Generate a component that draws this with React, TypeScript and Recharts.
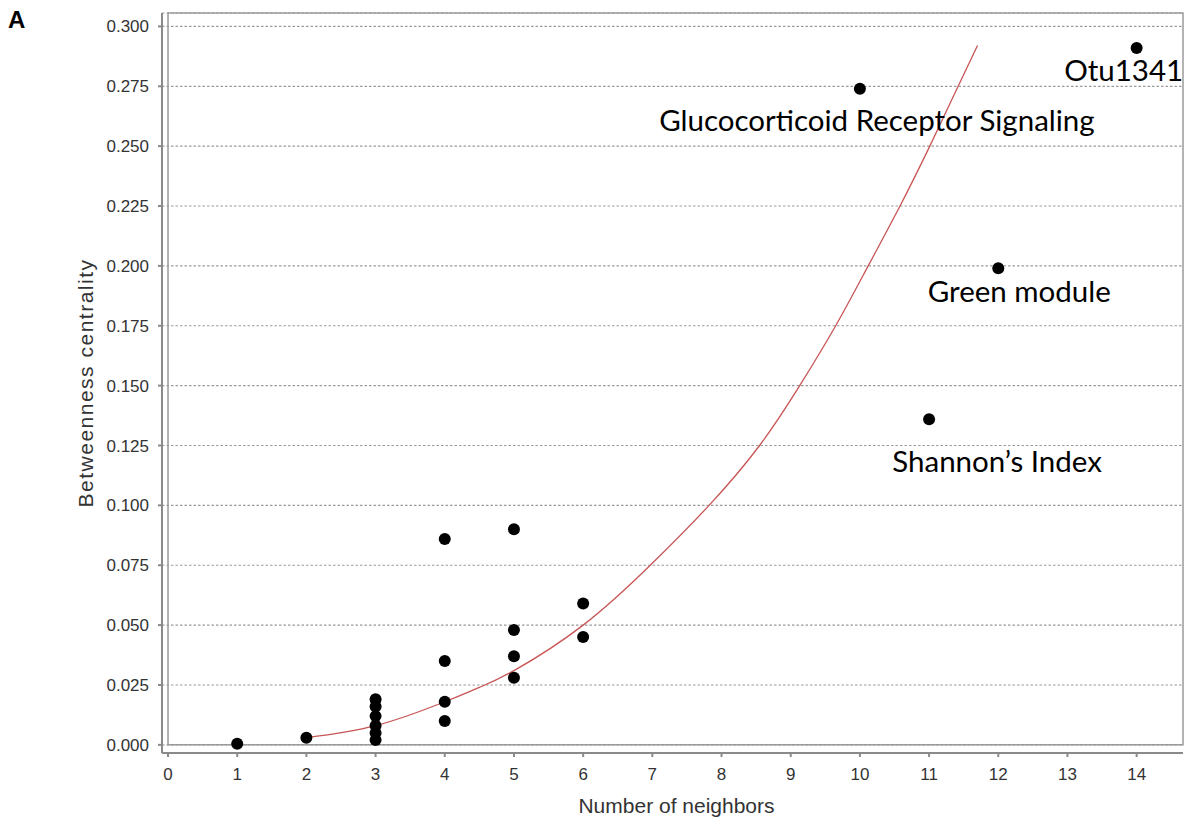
import React from 'react';
import {
  ComposedChart, Scatter, Line, XAxis, YAxis, CartesianGrid, ReferenceArea,
} from 'recharts';

// node degree vs betweenness
const degree = [1, 2, 3, 3, 3, 3, 3, 3, 4, 4, 4, 4, 5, 5, 5, 5, 6, 6, 10, 11, 12, 14];
const betweenness = [
  0.0005, 0.003,
  0.019, 0.016, 0.012, 0.008, 0.005, 0.002,
  0.086, 0.035, 0.018, 0.010,
  0.090, 0.048, 0.037, 0.028,
  0.059, 0.045,
  0.274, 0.136, 0.199, 0.291,
];
const nodeNames = [
  '', '', '', '', '', '', '', '', '', '', '', '', '', '', '', '', '', '',
  'Glucocorticoid Receptor Signaling', 'Shannon\u2019s Index', 'Green module', 'Otu1341',
];

// fitted curve
const fitX = [2, 3, 4, 4.5, 5, 6, 6.97, 7.82, 8.55, 9.13, 9.65, 10.12, 10.58, 11.01, 11.42, 11.7];
const fitY = [0.003, 0.008, 0.018, 0.024, 0.031, 0.05, 0.075, 0.1, 0.125, 0.15, 0.175, 0.2, 0.225, 0.25, 0.275, 0.292];

const xTicks = [0, 1, 2, 3, 4, 5, 6, 7, 8, 9, 10, 11, 12, 13, 14];
const yTicks = [0, 0.025, 0.05, 0.075, 0.1, 0.125, 0.15, 0.175, 0.2, 0.225, 0.25, 0.275, 0.3];

const X_MIN = -0.087;
const X_MAX = 14.67;
const Y_MIN = -0.0034;
const Y_MAX = 0.3056;

const nodeData = degree.map((x, i) => ({ x, y: betweenness[i], name: nodeNames[i] }));
const fitData = fitX.map((x, i) => ({ x, y: fitY[i] }));

// where each annotation sits relative to its dot (px)
const labelOffset: Record<string, { dx: number; dy: number }> = {
  'Glucocorticoid Receptor Signaling': { dx: 17, dy: 42 },
  'Shannon\u2019s Index': { dx: 68, dy: 53 },
  'Green module': { dx: 21, dy: 34 },
  'Otu1341': { dx: -13, dy: 33 },
};

const axisFont = '"Liberation Sans", Arial, sans-serif';
const noteFont = 'Lato, "Open Sans", sans-serif';

const renderNode = (props: any) => {
  const { cx, cy, payload } = props;
  const off = payload.name ? labelOffset[payload.name] : null;
  return (
    <g>
      <circle cx={cx} cy={cy} r={6} fill="#000" />
      {off && (
        <text
          x={cx + off.dx}
          y={cy + off.dy}
          textAnchor="middle"
          fontFamily={noteFont}
          fontSize={29.5}
          fill="#000"
        >
          {payload.name}
        </text>
      )}
    </g>
  );
};

export default function App() {
  return (
    <div style={{ position: 'absolute', left: 0, top: 0, width: 1185, height: 821, background: '#fff' }}>
      <div
        style={{
          position: 'absolute', left: 8, top: 8, fontFamily: axisFont, fontWeight: 'bold',
          fontSize: 24, lineHeight: '24px', color: '#000',
        }}
      >
        A
      </div>
      <ComposedChart width={1185} height={821} margin={{ top: 13, right: 2, bottom: 0, left: 0 }}>
        <CartesianGrid
          vertical={false}
          stroke="#9a9a9a"
          strokeDasharray="2.5 2"
          strokeWidth={1.2}
        />
        <ReferenceArea
          x1={0}
          x2={X_MAX}
          y1={0}
          y2={Y_MAX}
          fill="none"
          stroke="#9a9a9a"
          strokeWidth={1.5}
          ifOverflow="visible"
        />
        <XAxis
          type="number"
          dataKey="x"
          domain={[X_MIN, X_MAX]}
          ticks={xTicks}
          allowDataOverflow
          height={68}
          stroke="#8a8a8a"
          strokeWidth={2}
          tickSize={4}
          tickMargin={11}
          tick={{ fill: '#333', fontSize: 17, fontFamily: axisFont }}
          label={{
            value: 'Number of neighbors',
            position: 'insideBottom',
            offset: 8,
            dx: 4,
            style: { fill: '#333', fontSize: 21, fontFamily: axisFont },
          }}
        />
        <YAxis
          type="number"
          domain={[Y_MIN, Y_MAX]}
          ticks={yTicks}
          allowDataOverflow
          width={162}
          stroke="#8a8a8a"
          strokeWidth={2}
          tickSize={4}
          tickMargin={9}
          tickFormatter={(v: number) => v.toFixed(3)}
          tick={{ fill: '#333', fontSize: 17, fontFamily: axisFont }}
          label={{
            value: 'Betweenness centrality',
            angle: -90,
            position: 'insideLeft',
            offset: 86,
            style: { textAnchor: 'middle', fill: '#333', fontSize: 21, letterSpacing: 1.5, fontFamily: axisFont },
          }}
        />
        <Line
          data={fitData}
          dataKey="y"
          type="natural"
          stroke="#c85555"
          strokeWidth={1.3}
          dot={false}
          activeDot={false}
          isAnimationActive={false}
        />
        <Scatter data={nodeData} dataKey="y" shape={renderNode} isAnimationActive={false} />
      </ComposedChart>
    </div>
  );
}
